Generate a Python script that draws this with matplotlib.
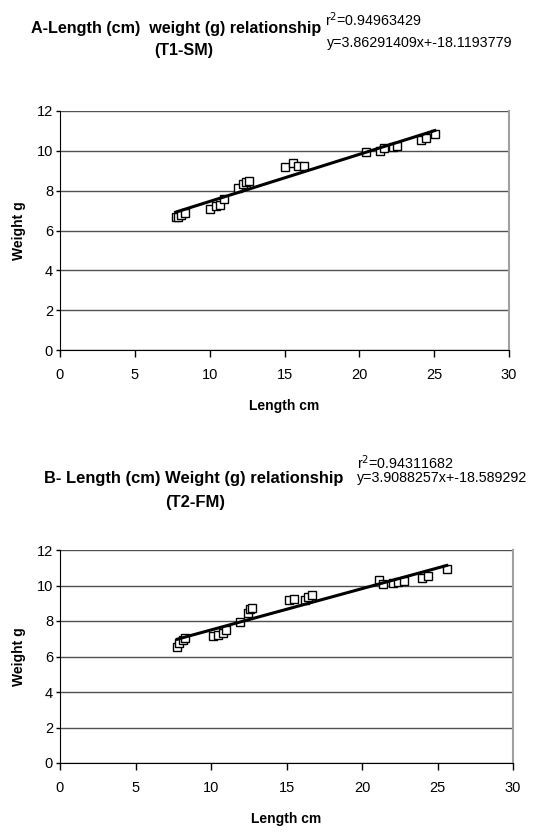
import numpy as np
import matplotlib
matplotlib.use("Agg")
import matplotlib.pyplot as plt

plt.rcParams['font.family'] = ['Liberation Sans', 'DejaVu Sans']

# A: T1-SM
len_a = [7.73, 7.89, 8.11, 8.33, 10.04, 10.44, 10.71, 10.93, 11.89, 12.22, 12.44, 12.62,
         15.0, 15.56, 15.89, 16.27, 20.44, 21.38, 21.67, 22.22, 22.49, 24.11, 24.44, 25.04]
wt_a = [6.66, 6.69, 6.78, 6.89, 7.06, 7.23, 7.28, 7.58, 8.12, 8.33, 8.45, 8.50,
        9.17, 9.40, 9.24, 9.24, 9.96, 9.99, 10.16, 10.21, 10.24, 10.54, 10.66, 10.87]

# B: T2-FM
len_b = [7.77, 7.90, 8.17, 8.28, 10.15, 10.48, 10.77, 11.0, 11.92, 12.47, 12.58, 12.69,
         15.19, 15.5, 16.23, 16.45, 16.67, 21.15, 21.41, 22.03, 22.41, 22.78, 23.95, 24.35, 25.61]
wt_b = [6.52, 6.74, 6.93, 7.02, 7.15, 7.21, 7.31, 7.49, 7.96, 8.43, 8.66, 8.75,
        9.18, 9.22, 9.18, 9.37, 9.46, 10.31, 10.08, 10.16, 10.21, 10.27, 10.40, 10.54, 10.93]

eqs = [("r$^2$=0.94963429", "y=3.86291409x+-18.1193779"),
       ("r$^2$=0.94311682", "y=3.9088257x+-18.589292")]

fig = plt.figure(figsize=(5.49, 8.34), dpi=100)
W, H = 549.0, 834.0


def draw(rect, xs, ys):
    ax = fig.add_axes(rect)
    ax.plot(xs, ys, 's', ms=6, mfc='white', mec='black', mew=1.0, zorder=3)
    k, b = np.polyfit(xs, ys, 1)
    xl = np.array([min(xs), max(xs)])
    ax.plot(xl, k * xl + b, '-', color='black', lw=2.2, zorder=4)
    ax.set_xlim(0, 30)
    ax.set_ylim(0, 12)
    ax.set_xticks(range(0, 31, 5))
    ax.set_yticks(range(0, 13, 2))
    ax.grid(axis='y', color='#505050', lw=1.0)
    ax.set_axisbelow(True)
    ax.spines['top'].set_visible(False)
    ax.spines['right'].set_color('#a0a0a0')
    ax.spines['right'].set_linewidth(1.5)
    ax.tick_params(axis='y', length=3, width=1, labelsize=10.5, pad=2)
    ax.tick_params(axis='x', length=5, width=1, labelsize=10.5, pad=8)
    ax.set_xlabel("Length cm", fontsize=10, fontweight='bold', labelpad=12)
    ax.set_ylabel("Weight g", fontsize=10, fontweight='bold', labelpad=8)
    return ax


ax1 = draw([60 / W, 1 - 350 / H, 449 / W, 239 / H], len_a, wt_a)
ax2 = draw([60 / W, 1 - 763 / H, 453 / W, 213 / H], len_b, wt_b)

# titles and trendline labels
fig.text(176 / W, 1 - 28 / H, "A-Length (cm)  weight (g) relationship", ha='center', va='center',
         fontsize=11.6, fontweight='bold')
fig.text(184 / W, 1 - 50 / H, "(T1-SM)", ha='center', va='center', fontsize=11.6, fontweight='bold')
fig.text(325 / W, 1 - 20 / H, eqs[0][0], ha='left', va='center', fontsize=10.3)
fig.text(327 / W, 1 - 43 / H, eqs[0][1], ha='left', va='center', fontsize=10.3)

fig.text(194 / W, 1 - 478 / H, "B- Length (cm) Weight (g) relationship", ha='center', va='center',
         fontsize=11.9, fontweight='bold')
fig.text(195 / W, 1 - 502 / H, "(T2-FM)", ha='center', va='center', fontsize=11.9, fontweight='bold')
fig.text(357 / W, 1 - 463 / H, eqs[1][0], ha='left', va='center', fontsize=10.3)
fig.text(357 / W, 1 - 478 / H, eqs[1][1], ha='left', va='center', fontsize=10.3)

fig.savefig("out.png", dpi=100)
